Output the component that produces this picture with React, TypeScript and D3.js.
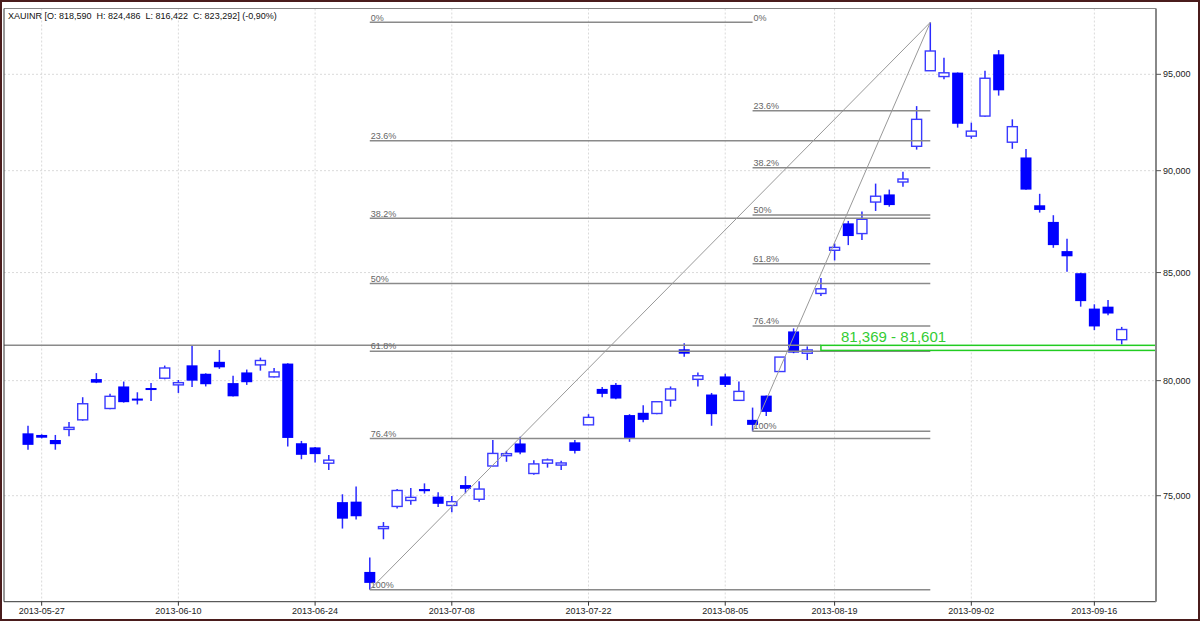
import React from 'react';
import * as d3 from 'd3';

// ---- data ----
const startDate = '2013-05-24';
const endDate = '2013-09-18';
const holidays = ['2013-08-09', '2013-08-15', '2013-09-09'];

const opens = [77670, 77600, 77380, 77900, 78260, 80070, 78760, 79740, 79200, 79670, 80110, 79810, 80690, 80310, 80850, 79890, 80370, 80710, 80170, 80770, 77240, 77060, 76380, 74730, 74750, 71860, 73630, 74550, 74800, 75280, 74960, 74590, 75450, 74850, 76260, 76760, 77230, 75940, 76380, 76300, 77280, 78040, 79630, 79810, 78470, 78570, 78540, 79130, 81420, 80060, 79380, 80190, 79120, 78260, 79330, 80410, 82240, 81240, 84010, 86070, 87380, 86880, 88430, 88810, 89430, 91240, 95190, 94880, 95090, 91760, 92800, 96070, 91450, 90670, 88270, 87450, 86030, 84970, 83300, 83390, 81859];
const highs = [78000, 77630, 77600, 78170, 79260, 80340, 79410, 79960, 79480, 79890, 80680, 80030, 81601, 80330, 81390, 80220, 80500, 81040, 80570, 80790, 77340, 77080, 76730, 75060, 75390, 72440, 73900, 75280, 75320, 75520, 75150, 74990, 75830, 75610, 77380, 76910, 77520, 76510, 76580, 76480, 77380, 78510, 79710, 79890, 78510, 78900, 79090, 79740, 81700, 80370, 79450, 80310, 79960, 78800, 79340, 81070, 82380, 81550, 84740, 86400, 87500, 87960, 89350, 89050, 89950, 93320, 97810, 95890, 95100, 92460, 95190, 96300, 92630, 91100, 88840, 87780, 86630, 84990, 83500, 83700, 82449];
const lows = [76960, 77450, 76960, 77540, 78220, 79890, 78730, 79020, 78940, 79090, 80060, 79450, 79710, 79740, 80530, 79290, 79810, 80450, 80140, 77100, 76550, 76410, 76090, 73630, 74010, 71150, 73190, 74460, 74620, 75090, 74530, 74310, 75100, 74750, 76250, 76440, 76760, 75890, 76190, 76090, 76800, 78030, 79260, 79170, 77300, 78150, 78510, 78840, 81080, 79740, 78000, 79710, 79110, 77760, 78430, 80400, 81240, 80930, 83890, 85580, 86320, 86570, 87990, 88200, 89190, 91070, 95180, 94740, 92200, 91630, 92770, 93870, 91110, 89040, 87910, 86190, 85040, 83390, 82300, 82990, 81642];
const closes = [77170, 77480, 77200, 77930, 78970, 79910, 79300, 79040, 79180, 79580, 80570, 79910, 80000, 79840, 80600, 79300, 79930, 80910, 80390, 77470, 76740, 76770, 76510, 74040, 74140, 71420, 73710, 75220, 74930, 75190, 74660, 74750, 75290, 75280, 76800, 76790, 76840, 76350, 76520, 76390, 76910, 78370, 79410, 79200, 77470, 78260, 79060, 79630, 81220, 80220, 78510, 79810, 79520, 78040, 78610, 81065, 81270, 81390, 84230, 86210, 86760, 87580, 88720, 88280, 89580, 92630, 96250, 95080, 92400, 92020, 94790, 94150, 92250, 89050, 88040, 86320, 85780, 83650, 82470, 83070, 82329];

const yTicks = [75000, 80000, 85000, 90000, 95000];
const xTickDates = ['2013-05-27', '2013-06-10', '2013-06-24', '2013-07-08', '2013-07-22', '2013-08-05', '2013-08-19', '2013-09-02', '2013-09-16'];

const fibRatios = [0, 0.236, 0.382, 0.5, 0.618, 0.764, 1];
const fibLabels = ['0%', '23.6%', '38.2%', '50%', '61.8%', '76.4%', '100%'];
const fibLowDates = ['2013-06-28', '2013-08-07'];
const fibHighDate = '2013-08-28';

const supportValue = 81601;
const zoneLow = 81369;
const zoneHigh = 81601;
const zoneStartDate = '2013-08-16';
const zoneLabel = '81,369 - 81,601';
const header = 'XAUINR [O: 818,590  H: 824,486  L: 816,422  C: 823,292] (-0,90%)';

// ---- layout ----
const W = 1200, H = 621;
const L = 4, R = 1156, T = 8.5, B = 601.7;
const FONT = 'Liberation Sans, Arial, sans-serif';
const BLUE = '#0000ff';
const WICK = '#2a2aff';

const fmt = d3.utcFormat('%Y-%m-%d');
const dates = d3.utcDay
  .range(new Date(startDate + 'T00:00:00Z'), d3.utcDay.offset(new Date(endDate + 'T00:00:00Z'), 1))
  .filter((d) => d.getUTCDay() !== 0 && d.getUTCDay() !== 6)
  .map(fmt)
  .filter((s) => !holidays.includes(s));

const x = d3.scalePoint<string>().domain(dates).range([28, 1121.7]);
const y = d3.scaleLog().domain([75000, 95000]).range([495.7, 74.3]);
const fmtNum = d3.format(',');

export default function App() {
  const candles = dates.map((d, i) => ({ d, o: opens[i], h: highs[i], l: lows[i], c: closes[i] }));
  const hiIdx = dates.indexOf(fibHighDate);
  const fibHigh = highs[hiIdx];
  const fibs = fibLowDates.map((ld) => {
    const li = dates.indexOf(ld);
    return { x0: x(ld)!, x1: x(fibHighDate)!, low: lows[li] };
  });
  const bw = 10;

  return (
    <svg width={W} height={H} style={{ position: 'absolute', left: 0, top: 0, display: 'block', background: '#fff' }}>
      <rect x={0} y={0} width={W} height={H} fill="#fff" />
      {/* grid */}
      {yTicks.map((t) => (
        <line key={'gy' + t} x1={L} x2={R} y1={y(t)} y2={y(t)} stroke="#dadada" strokeDasharray="2,2" />
      ))}
      {xTickDates.map((t) => (
        <line key={'gx' + t} x1={x(t)} x2={x(t)} y1={T} y2={B} stroke="#dadada" strokeDasharray="2,2" />
      ))}

      {/* candles */}
      {candles.map((k) => {
        const cx = x(k.d)!;
        const up = k.c >= k.o;
        const top = y(Math.max(k.o, k.c));
        const bot = y(Math.min(k.o, k.c));
        const h = Math.max(bot - top, 1);
        return (
          <g key={k.d}>
            <line x1={cx} x2={cx} y1={y(k.h)} y2={y(k.l)} stroke={WICK} strokeWidth={1.5} />
            {up ? (
              <rect x={cx - bw / 2} y={top} width={bw} height={Math.max(h, 2)} fill="#fff" stroke="#3a3aff" strokeWidth={1.4} />
            ) : (
              <rect x={cx - bw / 2 - 0.5} y={top} width={bw + 1} height={Math.max(h, 2)} fill={BLUE} />
            )}
          </g>
        );
      })}

      {/* support line */}
      <line x1={L} x2={x(zoneStartDate)} y1={y(supportValue)} y2={y(supportValue)} stroke="#8a8a8a" strokeWidth={1.5} />

      {/* fibonacci */}
      {fibs.map((f, fi) => (
        <g key={'fib' + fi}>
          {fibRatios.map((r, ri) => {
            const v = fibHigh - r * (fibHigh - f.low);
            const yy = y(v);
            let x1 = f.x1;
            let drawLine = true;
            if (r === 0) {
              if (fi === 0) x1 = fibs[1].x0;
              else drawLine = false;
            }
            return (
              <g key={ri}>
                {drawLine && <line x1={f.x0} x2={x1} y1={yy} y2={yy} stroke="#8a8a8a" strokeWidth={1.5} />}
                <text x={f.x0 + 1} y={yy - 1.8} fontSize={9} fontFamily={FONT} fill="#666">
                  {fibLabels[ri]}
                </text>
              </g>
            );
          })}
          <line x1={f.x0} y1={y(f.low)} x2={f.x1} y2={y(fibHigh)} stroke="#999" strokeWidth={1} />
        </g>
      ))}

      {/* zone */}
      <rect
        x={x(zoneStartDate)}
        y={y(zoneHigh)}
        width={R - x(zoneStartDate)!}
        height={y(zoneLow) - y(zoneHigh)}
        fill="#fff"
        stroke="#22cc22"
        strokeWidth={1.5}
      />
      <text x={841} y={341.5} fontSize={15} fontFamily={FONT} fill="#33cc33">
        {zoneLabel}
      </text>

      {/* frame */}
      <line x1={L} x2={R} y1={T} y2={T} stroke="#888" strokeWidth={1} />
      <line x1={L} x2={L} y1={T} y2={B} stroke="#333" strokeWidth={1} />
      <line x1={L} x2={R} y1={B} y2={B} stroke="#333" strokeWidth={1} />
      <line x1={R} x2={R} y1={T} y2={B} stroke="#888" strokeWidth={2} />

      {/* y axis */}
      {yTicks.map((t) => (
        <g key={'yt' + t}>
          <line x1={R} x2={R + 5} y1={y(t)} y2={y(t)} stroke="#555" />
          <text x={R + 7} y={y(t) + 3} fontSize={9} fontFamily={FONT} fill="#222">
            {fmtNum(t)}
          </text>
        </g>
      ))}
      {/* x axis */}
      {xTickDates.map((t) => (
        <g key={'xt' + t}>
          <line x1={x(t)} x2={x(t)} y1={B} y2={B + 4} stroke="#333" />
          <text x={x(t)} y={614} fontSize={9} fontFamily={FONT} fill="#222" textAnchor="middle">
            {t}
          </text>
        </g>
      ))}

      <text x={8} y={19} fontSize={9} fontFamily={FONT} fill="#111" style={{ whiteSpace: 'pre' }}>
        {header}
      </text>

      <rect x={1} y={1} width={W - 2} height={H - 2} fill="none" stroke="#4a1c1c" strokeWidth={2} />
    </svg>
  );
}
